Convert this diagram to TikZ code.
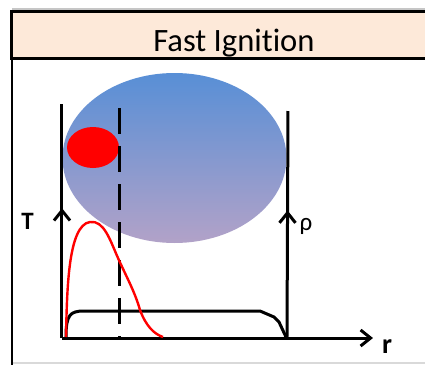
\documentclass[tikz,border=0pt]{standalone}
\usepackage{fontspec}
\setmainfont[Ligatures=NoCommon]{Carlito}
\usetikzlibrary{arrows.meta, decorations.markings, positioning}
\definecolor{titlefill}{RGB}{253,233,217}
\definecolor{coretop}{RGB}{88,143,214}
\definecolor{corebot}{RGB}{178,162,200}
\tikzset{
	axisline/.style={line width=1.5pt},
	midarrow/.style={postaction={decorate}, decoration={markings,
		mark=at position #1 with {\arrow{Straight Barb[length=5pt, width=8pt, line width=1.5pt]}}}},
	axislabel/.style={font=\fontsize{12.5}{14}\selectfont\bfseries, inner sep=0pt}
}
\begin{document}
\begin{tikzpicture}[x=0.5pt, y=-0.5pt]
      \useasboundingbox (0,0) rectangle (425,365);
      % frame and title band
      \draw[gray!45, line width=0.6pt] (12,9) -- (425,9);
      \draw[gray!30, line width=1pt] (12,362.5) -- (425,362.5);
      \draw[line width=1pt] (12,58) -- (12,365);
      \filldraw[fill=titlefill, line width=1.5pt] (430,11) -- (12,11) -- (12,58) -- (430,58);
      \node[font=\fontsize{16.3}{18}\selectfont, inner sep=0pt] (title) at (234,43) {Fast Ignition};
      % target: compressed fuel and hot spot
      \shade[top color=coretop, bottom color=corebot] (174.5,158) ellipse [x radius=112, y radius=85];
      \fill[red] (93,147.5) ellipse [x radius=26, y radius=20.5];
      % axes
      \coordinate (orig) at (62,338);
      \coordinate (Ttop) at (62,104);
      \coordinate (rend) at (373,338);
      \coordinate (rhobot) at (287,337);
      \coordinate (rhotop) at (288,111);
      \draw[axisline, midarrow=0.555] (orig) -- (Ttop);
      \draw[axisline, midarrow=0.56] (rhobot) -- (rhotop);
      \draw[axisline, -{Straight Barb[length=5pt, width=8pt, line width=1.5pt]}] (orig) -- (rend);
      \draw[axisline, dash pattern=on 13pt off 6pt] (120,108) -- (120,337);
      \node[axislabel] (T) at (27.5,221) {T};
      \node[font=\fontsize{12.5}{14}\selectfont, inner sep=0pt] (rho) at (306,226) {ρ};
      \node[axislabel, font=\fontsize{14}{16}\selectfont\bfseries] (r) at (387,347) {r};
      % density profile
      \draw[axisline, line join=round] (66,337) .. controls (66,315) and (70,311) .. (84,311)
        -- (260,311) -- (274,317) -- (279,322) -- (286,337);
      % temperature profile
      \draw[red, line width=1.2pt] (66,337) .. controls (67,290) and (68,225) .. (90,222)
        .. controls (104,220) and (110,240) .. (118,258)
        .. controls (126,276) and (135,292) .. (140,310)
        .. controls (146,326) and (154,334) .. (163,337);
    \end{tikzpicture}
\end{document}
